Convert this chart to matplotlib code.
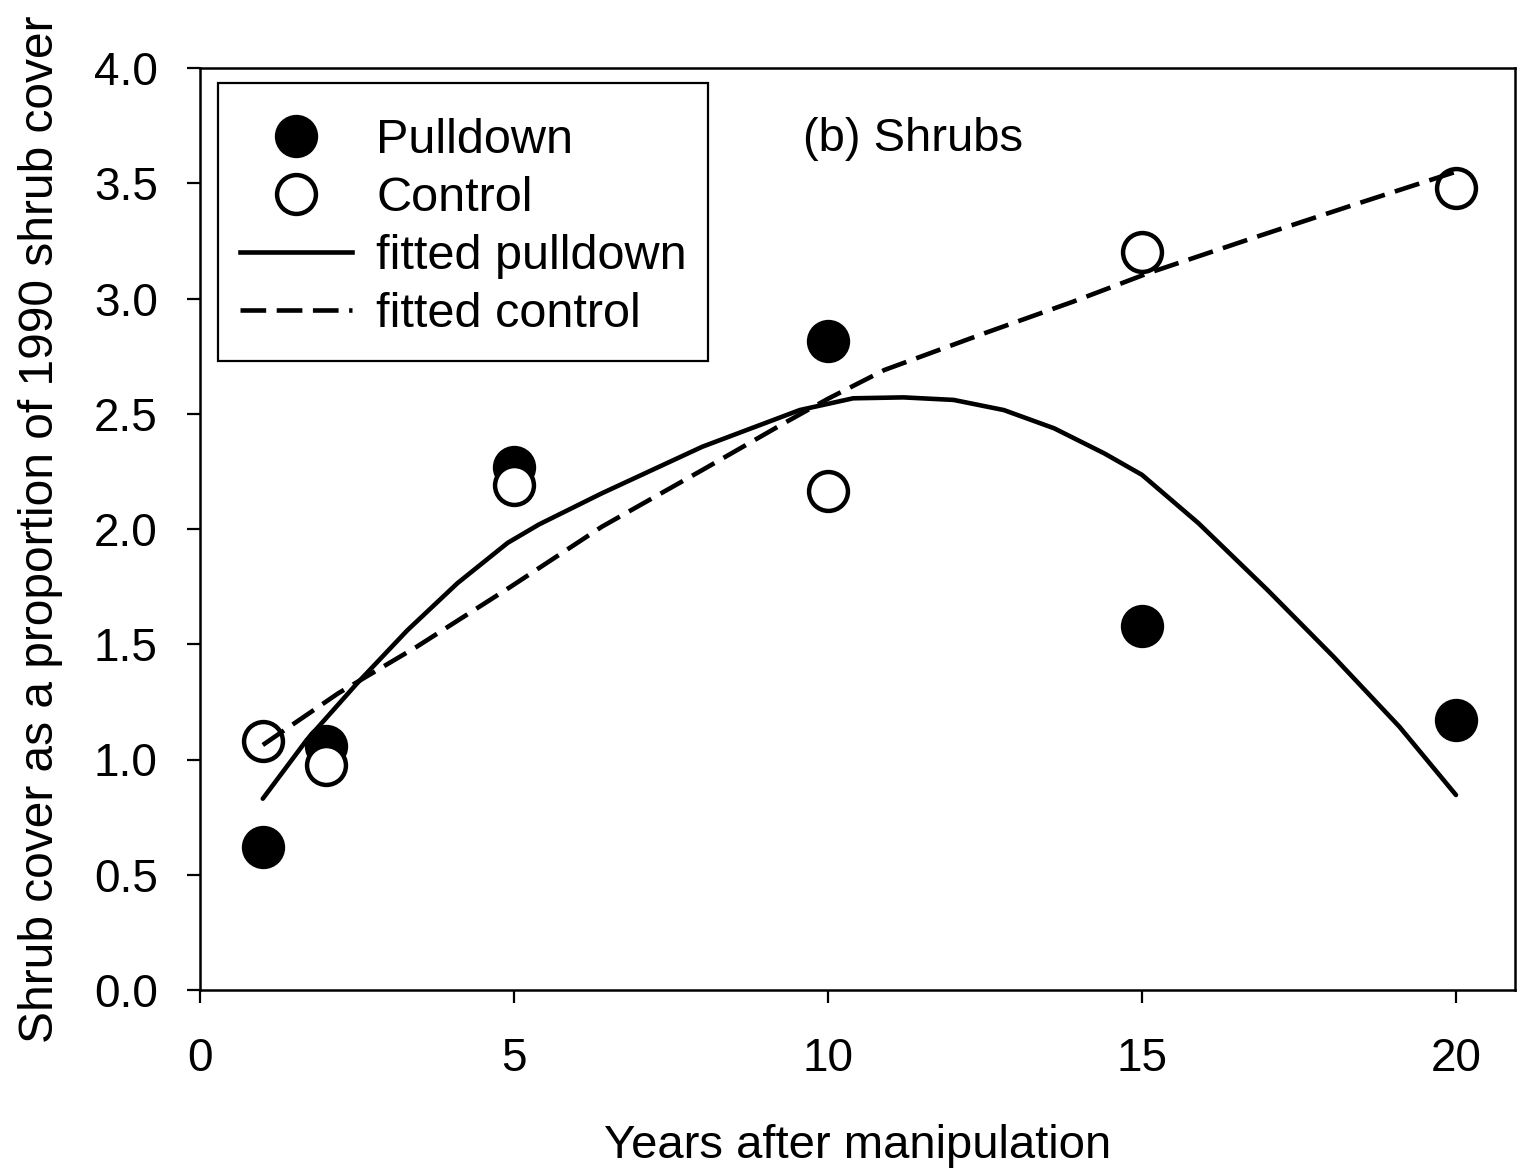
import matplotlib
matplotlib.use("Agg")
import matplotlib.pyplot as plt
from matplotlib.lines import Line2D
from matplotlib.patches import Rectangle

plt.rcParams['font.family'] = ['Liberation Sans', 'DejaVu Sans']

# observed shrub cover (proportion of 1990 cover)
years = [1, 2, 5, 10, 15, 20]
pulldown = [0.62, 1.06, 2.27, 2.815, 1.58, 1.17]
control = [1.08, 0.975, 2.19, 2.165, 3.20, 3.48]

# fitted curves
fit_pull_x = [1.0, 1.7, 2.5, 3.3, 4.1, 4.9, 5.4, 6.4, 8.0, 9.55, 10.4, 11.2,
              12.0, 12.8, 13.6, 14.4, 15.0, 15.9, 17.0, 18.05, 19.1, 20.0]
fit_pull_y = [0.83, 1.085, 1.33, 1.56, 1.765, 1.94, 2.02, 2.155, 2.357, 2.516, 2.567, 2.571,
              2.56, 2.516, 2.437, 2.328, 2.235, 2.025, 1.735, 1.446, 1.142, 0.846]
fit_ctrl_x = [1.0, 2.2, 3.45, 4.95, 6.4, 8.0, 9.3, 10.0, 10.9, 12.5, 13.9, 15.1, 16.85, 18.3, 20.0]
fit_ctrl_y = [1.063, 1.287, 1.489, 1.75, 2.01, 2.256, 2.459, 2.565, 2.69, 2.85, 2.986, 3.11, 3.27, 3.40, 3.55]

x_ticks = [0, 5, 10, 15, 20]
y_ticks = [0.0, 0.5, 1.0, 1.5, 2.0, 2.5, 3.0, 3.5, 4.0]

W, H = 1517, 1171
fig = plt.figure(figsize=(W / 100, H / 100), dpi=100)
ax = fig.add_axes([200 / W, (H - 990) / H, 1315 / W, 922 / H])

ms = 28
mew = 3.2
lw = 3.3
dash = (5.6, 2.3)

ax.plot(years, pulldown, 'o', ms=ms, mfc='black', mec='black', mew=mew, zorder=3)
ax.plot(years, control, 'o', ms=ms, mfc='white', mec='black', mew=mew, zorder=4)
ax.plot(fit_pull_x, fit_pull_y, '-', color='black', lw=lw, solid_joinstyle='round',
        solid_capstyle='round', zorder=5)
ax.plot(fit_ctrl_x, fit_ctrl_y, color='black', lw=lw, dashes=dash, zorder=5)

ax.set_xlim(0, 20.94)
ax.set_ylim(0, 4.0)
ax.set_xticks(x_ticks)
ax.set_yticks(y_ticks)
ax.set_yticklabels([f'{v:.1f}' for v in y_ticks])
ax.tick_params(direction='out', length=9.5, width=1.6, labelsize=33)
ax.tick_params(axis='y', pad=21)
ax.tick_params(axis='x', pad=24)
for s in ax.spines.values():
    s.set_linewidth(1.8)

ax.set_xlabel('Years after manipulation', fontsize=34, labelpad=31)
ax.set_ylabel('Shrub cover as a proportion of 1990 shrub cover', fontsize=34.5, labelpad=22)

ax.text(9.6, 3.69, '(b) Shrubs', fontsize=34, ha='left', va='center')

handles = [
    Line2D([], [], ls='none', marker='o', ms=ms, mfc='black', mec='black', mew=mew),
    Line2D([], [], ls='none', marker='o', ms=ms, mfc='white', mec='black', mew=mew),
    Line2D([], [], color='black', lw=lw),
    Line2D([], [], color='black', lw=lw, dashes=dash),
]
labels = ['Pulldown', 'Control', 'fitted pulldown', 'fitted control']
# legend without its own frame; box drawn separately for wider top/bottom margins
leg = ax.legend(handles, labels, loc='upper left', bbox_to_anchor=(0.0304, 0.9458),
                fontsize=35, frameon=False, handlelength=2.3,
                handletextpad=0.5, labelspacing=0.27, borderpad=0,
                borderaxespad=0)
leg.set_zorder(6)
ax.add_patch(Rectangle((0.0137, 0.6822), 0.3726, 0.3015, transform=ax.transAxes,
                       facecolor='white', edgecolor='black', lw=1.6, zorder=5.5))

fig.savefig('out.png', dpi=100)
